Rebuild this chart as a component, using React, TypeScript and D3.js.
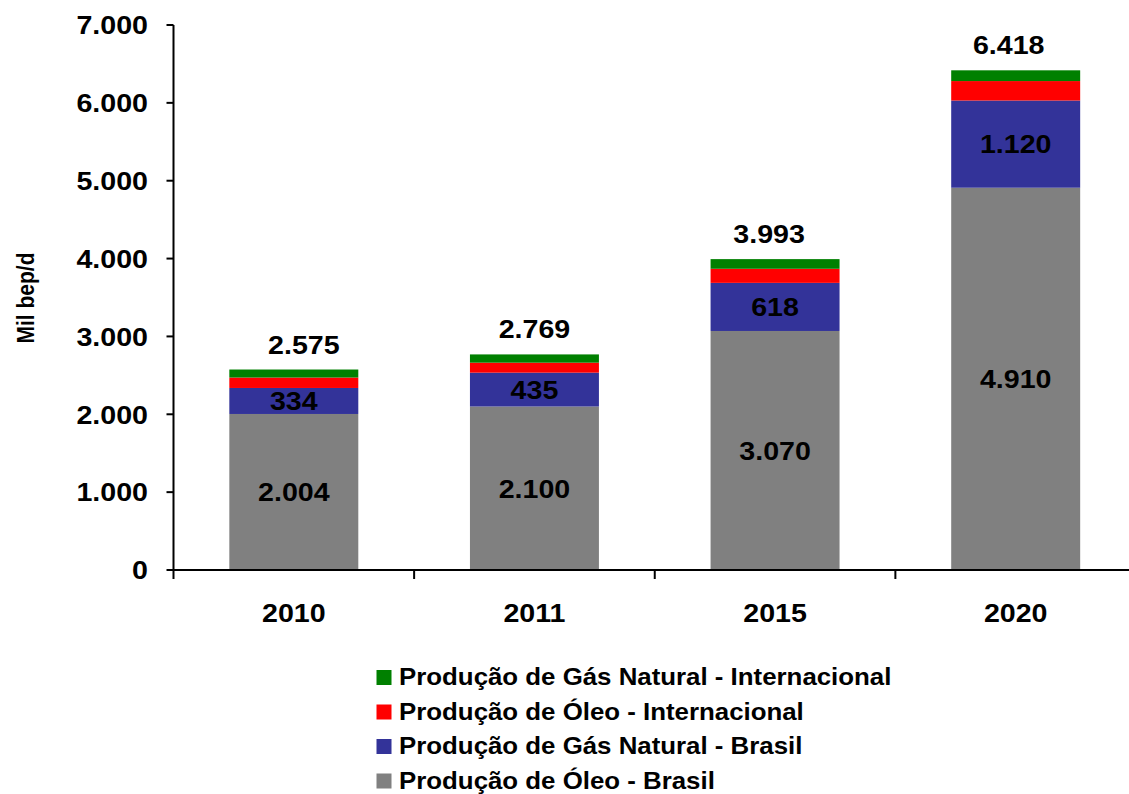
import React, { useEffect, useRef } from "react";
import * as d3 from "d3";

// Production by year, in thousand boe/day
const years = ["2010", "2011", "2015", "2020"];
const oleoBrasil = [2004, 2100, 3070, 4910];
const gasBrasil = [334, 435, 618, 1120];
const oleoInternacional = [134, 128, 181, 250];
const gasInternacional = [103, 106, 124, 138];
const totals = [2575, 2769, 3993, 6418];

const seriesNames = [
  "Produção de Óleo - Brasil",
  "Produção de Gás Natural - Brasil",
  "Produção de Óleo - Internacional",
  "Produção de Gás Natural - Internacional",
];
const seriesColors = ["#808080", "#333399", "#FF0000", "#008000"];
const yTicks = [0, 1000, 2000, 3000, 4000, 5000, 6000, 7000];

// small horizontal nudges for the total labels above the bars
const totalNudge = [10, 0, -6, -7];

const W = 1129;
const H = 794;
const FONT = "'Liberation Sans', Arial, Helvetica, sans-serif";
// text is drawn slightly wide
const SX = 1.1;

const fmt = (v: number) => d3.format(",")(v).replace(/,/g, ".");

function addText(
  parent: d3.Selection<any, any, any, any>,
  x: number,
  y: number,
  str: string,
  size: number,
  anchor: string = "middle",
  rotate: number = 0
) {
  return parent
    .append("text")
    .attr(
      "transform",
      `translate(${x},${y}) scale(${SX},1)` + (rotate ? ` rotate(${rotate})` : "")
    )
    .attr("text-anchor", anchor)
    .attr("font-family", FONT)
    .attr("font-weight", "bold")
    .attr("font-size", size)
    .attr("fill", "#000")
    .text(str);
}

export default function App() {
  const ref = useRef<SVGSVGElement | null>(null);

  useEffect(() => {
    const svg = d3.select(ref.current);
    svg.selectAll("*").remove();

    const x0 = 173.5;
    const x = d3
      .scaleBand<string>()
      .domain(years)
      .range([x0, 1136])
      .paddingInner(0.464)
      .paddingOuter(0.232);
    const y = d3.scaleLinear().domain([0, 7000]).range([570, 25]);

    const rows = years.map((yr, i) => ({
      year: yr,
      s0: oleoBrasil[i],
      s1: gasBrasil[i],
      s2: oleoInternacional[i],
      s3: gasInternacional[i],
    }));
    const stack = d3.stack<any>().keys(["s0", "s1", "s2", "s3"]);
    const layers = stack(rows);

    const g = svg.append("g");

    // bars
    layers.forEach((layer, li) => {
      g.selectAll(null)
        .data(layer)
        .enter()
        .append("rect")
        .attr("x", (d: any) => x(d.data.year)!)
        .attr("width", x.bandwidth())
        .attr("y", (d: any) => y(d[1]))
        .attr("height", (d: any) => y(d[0]) - y(d[1]))
        .attr("fill", seriesColors[li]);
    });

    // segment labels for the two Brasil series
    [0, 1].forEach((li) => {
      layers[li].forEach((d: any) => {
        addText(
          g,
          x(d.data.year)! + x.bandwidth() / 2,
          (y(d[0]) + y(d[1])) / 2 + 9.3,
          fmt(d[1] - d[0]),
          26
        );
      });
    });

    // totals above the bars
    years.forEach((yr, i) => {
      addText(
        g,
        x(yr)! + x.bandwidth() / 2 + totalNudge[i],
        y(layers[3][i][1]) - 16,
        fmt(totals[i]),
        26
      );
    });

    // y axis
    const ya = svg.append("g");
    ya.append("line")
      .attr("x1", x0)
      .attr("x2", x0)
      .attr("y1", y(7000))
      .attr("y2", y(0))
      .attr("stroke", "#000")
      .attr("stroke-width", 2);
    yTicks.forEach((t) => {
      ya.append("line")
        .attr("x1", x0 - 7)
        .attr("x2", x0)
        .attr("y1", y(t))
        .attr("y2", y(t))
        .attr("stroke", "#000")
        .attr("stroke-width", 2);
      addText(ya, 148, y(t) + 9.3, fmt(t), 26, "end");
    });

    // x axis with ticks at band boundaries
    const xa = svg.append("g");
    xa.append("line")
      .attr("x1", x0)
      .attr("x2", W)
      .attr("y1", 570)
      .attr("y2", 570)
      .attr("stroke", "#000")
      .attr("stroke-width", 2);
    const step = x.step();
    d3.range(years.length + 1).forEach((i) => {
      const bx = x0 + i * step;
      xa.append("line")
        .attr("x1", bx)
        .attr("x2", bx)
        .attr("y1", 570)
        .attr("y2", 579)
        .attr("stroke", "#000")
        .attr("stroke-width", 2);
    });
    years.forEach((yr) => {
      addText(xa, x(yr)! + x.bandwidth() / 2, 622, yr, 26);
    });

    // y axis title
    addText(svg, 34, 298, "Mil bep/d", 21, "middle", -90);

    // legend, top entry is the top of the stack
    const legendOrder = [3, 2, 1, 0];
    const lg = svg.append("g");
    legendOrder.forEach((si, row) => {
      const base = 685 + row * 34.5;
      lg.append("rect")
        .attr("x", 376.5)
        .attr("y", base - 15)
        .attr("width", 15)
        .attr("height", 15)
        .attr("fill", seriesColors[si]);
      addText(lg, 399, base, seriesNames[si], 23.5, "start");
    });
  }, []);

  return (
    <svg
      ref={ref}
      width={W}
      height={H}
      style={{ position: "fixed", left: 0, top: 0, background: "#fff" }}
    />
  );
}
